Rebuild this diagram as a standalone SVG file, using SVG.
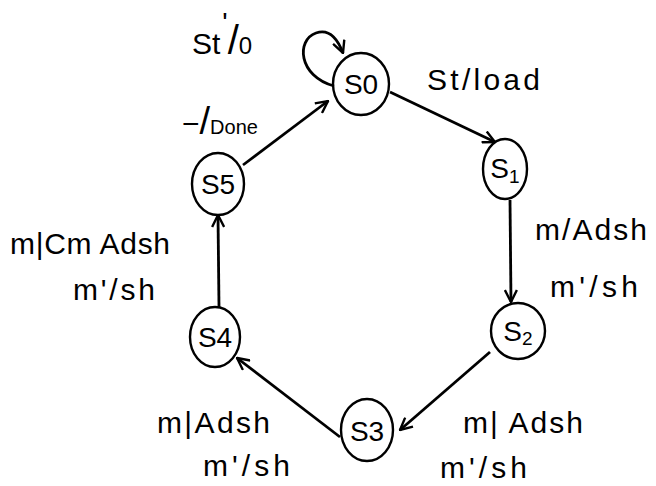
<svg xmlns="http://www.w3.org/2000/svg" width="656" height="486" viewBox="0 0 656 486">
<defs>
<marker id="arr" viewBox="0 0 14 14" refX="13" refY="7" markerWidth="14" markerHeight="14" markerUnits="userSpaceOnUse" orient="auto">
<path d="M1,1 L13,7 L1,13" fill="none" stroke="#000" stroke-width="2.4"/>
</marker>
</defs>
<style>
.st{fill:none;stroke:#000;stroke-width:2.4}
.lb{font-family:"Liberation Sans",Arial,sans-serif;font-size:30px;fill:#000}
.nl{font-family:"Liberation Sans",Arial,sans-serif;font-size:28px;fill:#000;text-anchor:middle}
.ed{fill:none;stroke:#000;stroke-width:2.8;marker-end:url(#arr)}
</style>
<rect width="656" height="486" fill="#fff"/>
<g id="S0"><ellipse class="st" cx="361" cy="84" rx="28" ry="31"/><text class="nl" x="361" y="94">S0</text></g>
<g id="S1"><ellipse class="st" cx="505" cy="169" rx="22" ry="30"/><text class="nl" x="505" y="178">S<tspan font-size="19" dy="5">1</tspan></text></g>
<g id="S2"><ellipse class="st" cx="518" cy="331" rx="27" ry="28"/><text class="nl" x="518" y="341">S<tspan font-size="19" dy="4">2</tspan></text></g>
<g id="S3"><ellipse class="st" cx="367" cy="430" rx="26" ry="31"/><text class="nl" x="367" y="441">S3</text></g>
<g id="S4"><ellipse class="st" cx="215" cy="337" rx="25" ry="30"/><text class="nl" x="215" y="347">S4</text></g>
<g id="S5"><ellipse class="st" cx="218" cy="184" rx="26" ry="31"/><text class="nl" x="218" y="194">S5</text></g>
<g id="connectors">
<path class="ed" d="M334,86 C298,76 296,40 316,33 C330,28 338,40 343,53"/>
<path class="ed" d="M390,92 L495,142"/>
<path class="ed" d="M510,200 L511,302"/>
<path class="ed" d="M490,352 L400,430"/>
<path class="ed" d="M340,437 L237,358"/>
<path class="ed" d="M219,307 L218,215"/>
<path class="ed" d="M243,165 L328,101"/>
</g>
<g id="labels">
<text class="lb" x="192" y="54">St<tspan font-size="28" dx="2" dy="-22">'</tspan><tspan dy="22" font-size="40">/</tspan><tspan font-size="24">0</tspan></text>
<text class="lb" x="427" y="90" textLength="113" lengthAdjust="spacing">St/load</text>
<text class="lb" x="182" y="134">−<tspan font-size="38">/</tspan><tspan font-size="20">Done</tspan></text>
<text class="lb" x="535" y="240" textLength="112" lengthAdjust="spacing">m/Adsh</text>
<text class="lb" x="550" y="297" textLength="88" lengthAdjust="spacing">m'/sh</text>
<text class="lb" x="10" y="254" textLength="160" lengthAdjust="spacing">m|Cm Adsh</text>
<text class="lb" x="73" y="300" textLength="82" lengthAdjust="spacing">m'/sh</text>
<text class="lb" x="463" y="433" textLength="120" lengthAdjust="spacing">m| Adsh</text>
<text class="lb" x="440" y="478" textLength="87" lengthAdjust="spacing">m'/sh</text>
<text class="lb" x="157" y="433" textLength="113" lengthAdjust="spacing">m|Adsh</text>
<text class="lb" x="203" y="476" textLength="87" lengthAdjust="spacing">m'/sh</text>
</g>
</svg>
